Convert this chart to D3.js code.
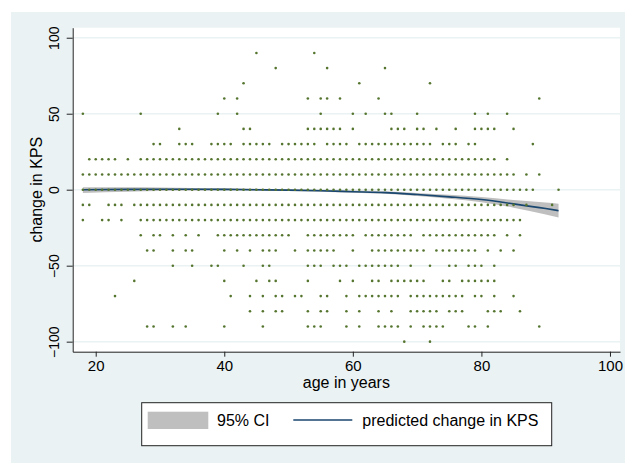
<!DOCTYPE html>
<html>
<head>
<meta charset="utf-8">
<script src="https://cdn.jsdelivr.net/npm/d3@7"></script>
<style>
  body { margin: 0; background: #fff; }
  svg { display: block; font-family: "Liberation Sans", Arial, sans-serif; }
</style>
</head>
<body>
<div id="chart-container"></div>
<script>
// observed KPS change levels (rows of the scatter)
const changeLevels = [90, 80, 70, 60, 50, 40, 30, 20, 10, 0,
  -10, -20, -30, -40, -50, -60, -70, -80, -90, -100];

// ages (years) that have at least one patient at each level
const agesAtLevel = [
  "45,54",
  "48,56,65",
  "43,61,72",
  "40,42,53,55,56,58,64,89",
  "18,27,39,42,55,60,62,65,66,70,79,81,84",
  "33,43,44,53-58,60,66-68,70,71,73,76,79-82,85",
  "29,30,33-35,38-41,43-47,49-54,56-59,61-72,74-76,78,79,88",
  "19-23,25,27-82,84",
  "18-85,87,89",
  "18-88,92",
  "18,19,22-24,26-85,87,91",
  "18,21,22,24,27-86",
  "27,29,30,32,34,36,39-50,53-60,62-69,71-82,84,86",
  "28,29,32,34,35,40,42,44,46-48,51,53-57,60,63-71,73-79,81,83,85",
  "32,35,38,39,43,46,47,53-55,57-59,61-67,69,72,75,76,78-80,82",
  "26,40,45,47,48,53,58,60,63,64,66-71,74,75,77-82",
  "23,41,44,46,48,49,51,52,55,56,59,61-67,69-77,79,80,82,85",
  "44,46,48,49,53,55,56,59,61,64,66,69-73,75-77,81-83,86",
  "28,29,32,34,40,46,53-55,59,61,64-67,69,71-74,78,79,81,89",
  "68,72"
];

// fitted line and 95% CI
const fitAges  = [18, 25, 30, 35, 40, 45, 50, 55, 60, 65, 70, 75, 80, 85, 90, 92];
const fitPred  = [0.0, 0.2, 0.3, 0.3, 0.2, 0.0, -0.3, -0.7, -1.3, -1.9, -3.2, -4.7, -6.5, -9.3, -12.4, -13.8];
const fitLower = [-2.2, -1.4, -0.9, -0.7, -0.6, -0.7, -0.9, -1.3, -2.0, -2.7, -4.2, -6.0, -8.2, -11.8, -16.3, -18.3];
const fitUpper = [1.6, 1.6, 1.4, 1.2, 1.0, 0.7, 0.3, -0.1, -0.6, -1.1, -2.2, -3.4, -4.8, -6.8, -8.5, -9.3];

const xTicks = [20, 40, 60, 80, 100];
const yTicks = [-100, -50, 0, 50, 100];

function expand(spec) {
  const out = [];
  spec.split(",").forEach(function(part) {
    const ab = part.split("-").map(Number);
    if (ab.length === 1) out.push(ab[0]);
    else for (let a = ab[0]; a <= ab[1]; a++) out.push(a);
  });
  return out;
}

const points = [];
changeLevels.forEach(function(v, i) {
  expand(agesAtLevel[i]).forEach(function(a) { points.push({age: a, change: v}); });
});

const fit = fitAges.map(function(a, i) {
  return {age: a, pred: fitPred[i], lo: fitLower[i], hi: fitUpper[i]};
});

const svgWidth = 625, svgHeight = 463;
const plot = {left: 72.7, right: 620, top: 27.7, bottom: 351.7};

const svg = d3.select("#chart-container").append("svg")
  .attr("width", svgWidth)
  .attr("height", svgHeight);

// graph region background
svg.append("rect")
  .attr("x", 11).attr("y", 12)
  .attr("width", svgWidth - 11).attr("height", svgHeight - 12)
  .attr("fill", "#eaf2f3");

// plot region
svg.append("rect")
  .attr("x", plot.left).attr("y", plot.top)
  .attr("width", plot.right - plot.left).attr("height", plot.bottom - plot.top)
  .attr("fill", "#fff");

const x = d3.scaleLinear().domain([16.42, 101.56]).range([plot.left, plot.right]);
const y = d3.scaleLinear().domain([-106.6, 106.6]).range([plot.bottom, plot.top]);

// grid lines
svg.append("g").selectAll("line")
  .data(yTicks)
  .enter().append("line")
  .attr("x1", plot.left).attr("x2", plot.right)
  .attr("y1", function(d) { return y(d); })
  .attr("y2", function(d) { return y(d); })
  .attr("stroke", "#eaf2f3")
  .attr("stroke-width", 1.5);

// CI band
const area = d3.area()
  .x(function(d) { return x(d.age); })
  .y0(function(d) { return y(d.lo); })
  .y1(function(d) { return y(d.hi); })
  .curve(d3.curveMonotoneX);

svg.append("path")
  .datum(fit)
  .attr("fill", "#bfbfbf")
  .attr("d", area);

// fitted line
const line = d3.line()
  .x(function(d) { return x(d.age); })
  .y(function(d) { return y(d.pred); })
  .curve(d3.curveMonotoneX);

svg.append("path")
  .datum(fit)
  .attr("fill", "none")
  .attr("stroke", "#1a476f")
  .attr("stroke-width", 1.6)
  .attr("d", line);

// scatter
svg.append("g").selectAll("circle")
  .data(points)
  .enter().append("circle")
  .attr("cx", function(d) { return x(d.age); })
  .attr("cy", function(d) { return y(d.change); })
  .attr("r", 1.3)
  .attr("fill", "#55752f");

// axes
const xAxis = svg.append("g")
  .attr("transform", "translate(0," + plot.bottom + ")")
  .call(d3.axisBottom(x).tickValues(xTicks).tickSize(5).tickSizeOuter(0));
xAxis.selectAll("text")
  .attr("font-size", 15)
  .attr("font-family", "Liberation Sans, Arial, sans-serif")
  .attr("fill", "#000")
  .attr("y", 9);

const yAxis = svg.append("g")
  .attr("transform", "translate(" + plot.left + ",0)")
  .call(d3.axisLeft(y).tickValues(yTicks).tickSize(6).tickSizeOuter(0)
    .tickFormat(function(d) { return d < 0 ? "\u2212" + Math.abs(d) : d; }));
yAxis.selectAll(".tick text")
  .attr("font-size", 14)
  .attr("font-family", "Liberation Sans, Arial, sans-serif")
  .attr("fill", "#000")
  .attr("x", 0)
  .attr("y", -14)
  .attr("dy", 0)
  .attr("text-anchor", "middle")
  .attr("transform", "rotate(-90)");

[xAxis, yAxis].forEach(function(ax) {
  ax.selectAll("path, line").attr("stroke", "#222");
});

// axis titles
svg.append("text")
  .attr("x", (plot.left + plot.right) / 2)
  .attr("y", 388)
  .attr("text-anchor", "middle")
  .attr("font-size", 16)
  .text("age in years");

svg.append("text")
  .attr("transform", "translate(41.5," + ((plot.top + plot.bottom) / 2) + ") rotate(-90)")
  .attr("text-anchor", "middle")
  .attr("font-size", 16)
  .text("change in KPS");

// legend
const legend = svg.append("g");
legend.append("rect")
  .attr("x", 141.7).attr("y", 402.7)
  .attr("width", 410).attr("height", 43)
  .attr("fill", "#fff")
  .attr("stroke", "#222")
  .attr("stroke-width", 1);
legend.append("rect")
  .attr("x", 147.7).attr("y", 411.7)
  .attr("width", 60.6).attr("height", 17.3)
  .attr("fill", "#bfbfbf");
legend.append("text")
  .attr("x", 217).attr("y", 425.7)
  .attr("font-size", 16)
  .text("95% CI");
legend.append("line")
  .attr("x1", 293.3).attr("x2", 352.3)
  .attr("y1", 420).attr("y2", 420)
  .attr("stroke", "#1a476f")
  .attr("stroke-width", 1.6);
legend.append("text")
  .attr("x", 362.3).attr("y", 425.7)
  .attr("font-size", 16)
  .text("predicted change in KPS");
</script>
</body>
</html>
